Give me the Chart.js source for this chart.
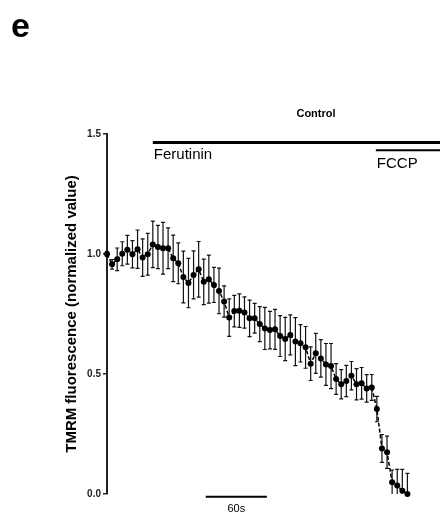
<!DOCTYPE html>
<html lang="en">
<head>
  <meta charset="utf-8" />
  <title>TMRM fluorescence - Control</title>
  <script src="https://cdn.jsdelivr.net/npm/chart.js"></script>
  <style>
    body {
      margin: 0;
      background: #fff;
      font-family: "Liberation Sans", Arial, sans-serif;
    }
    #chart-container {
      width: 446px;
      height: 520px;
      position: relative;
    }
  </style>
</head>
<body>
  <div id="chart-container">
    <canvas id="tmrmChart"></canvas>
  </div>

  <script>
    // time (s), one frame every 5 s
    const times = [];
    for (let i = 0; i < 60; i++) times.push(i * 5);

    // normalized TMRM fluorescence (mean)
    const meanValues = [
      1.000, 0.957, 0.978, 1.001, 1.018, 0.999, 1.020, 0.985, 0.999, 1.040,
      1.029, 1.024, 1.024, 0.982, 0.961, 0.904, 0.879, 0.913, 0.936, 0.884,
      0.895, 0.871, 0.846, 0.802, 0.735, 0.762, 0.764, 0.756, 0.732, 0.732,
      0.708, 0.690, 0.683, 0.686, 0.658, 0.646, 0.663, 0.635, 0.628, 0.611,
      0.543, 0.586, 0.565, 0.540, 0.533, 0.479, 0.457, 0.471, 0.493, 0.457,
      0.461, 0.440, 0.444, 0.354, 0.190, 0.174, 0.049, 0.035, 0.014, 0.000
    ];

    // error bars (SEM)
    const semValues = [
      0.010, 0.020, 0.047, 0.050, 0.060, 0.057, 0.080, 0.078, 0.087, 0.097,
      0.090, 0.108, 0.085, 0.097, 0.085, 0.108, 0.103, 0.100, 0.116, 0.095,
      0.100, 0.073, 0.095, 0.065, 0.078, 0.066, 0.070, 0.065, 0.076, 0.062,
      0.073, 0.088, 0.078, 0.083, 0.085, 0.090, 0.083, 0.100, 0.078, 0.087,
      0.070, 0.083, 0.078, 0.087, 0.094, 0.064, 0.061, 0.065, 0.059, 0.065,
      0.066, 0.057, 0.054, 0.053, 0.058, 0.067, 0.051, 0.068, 0.089, 0.086
    ];

    // y axis ticks
    const yTicks = [0, 0.5, 1.0, 1.5];

    // treatment bars: [start s, end s], level
    const ferutininSpan = [45, 327];
    const ferutininLevel = 1.465;
    const fccpSpan = [264, 327];
    const fccpLevel = 1.432;

    // time scale bar (60 s)
    const scaleBarSpan = [97, 157];
    const scaleBarLevel = -0.011;

    const xMax = 327;
    const fontFamily = '"Liberation Sans", Arial, sans-serif';

    // error bars drawn under the trace
    const errorBarPlugin = {
      id: "errorBars",
      beforeDatasetsDraw(chart) {
        const meta = chart.getDatasetMeta(0);
        const y = chart.scales.y;
        const area = chart.chartArea;
        const ctx = chart.ctx;
        ctx.save();
        ctx.strokeStyle = "#111";
        ctx.lineWidth = 1.2;
        meta.data.forEach((pt, i) => {
          const top = Math.max(area.top, y.getPixelForValue(meanValues[i] + semValues[i]));
          const bot = Math.min(area.bottom, y.getPixelForValue(meanValues[i] - semValues[i]));
          ctx.beginPath();
          ctx.moveTo(pt.x, top);
          ctx.lineTo(pt.x, bot);
          ctx.moveTo(pt.x - 2, top);
          ctx.lineTo(pt.x + 2, top);
          if (bot < area.bottom) {
            ctx.moveTo(pt.x - 2, bot);
            ctx.lineTo(pt.x + 2, bot);
          }
          ctx.stroke();
        });
        ctx.restore();
      }
    };

    // texts: panel letter, title, treatment labels, scale bar label
    const labelPlugin = {
      id: "labels",
      afterDraw(chart) {
        const x = chart.scales.x;
        const y = chart.scales.y;
        const ctx = chart.ctx;
        ctx.save();
        ctx.fillStyle = "#000";
        ctx.textBaseline = "alphabetic";

        ctx.font = "bold 34px " + fontFamily;
        ctx.textAlign = "left";
        ctx.fillText("e", 11, 37);

        ctx.font = "bold 11px " + fontFamily;
        ctx.textAlign = "center";
        ctx.fillText("Control", 316, 117);

        ctx.font = "15px " + fontFamily;
        ctx.textAlign = "left";
        ctx.fillText("Ferutinin", x.getPixelForValue(ferutininSpan[0]) + 1,
                     y.getPixelForValue(ferutininLevel) + 17);
        ctx.fillText("FCCP", x.getPixelForValue(fccpSpan[0]) + 1,
                     y.getPixelForValue(fccpLevel) + 18);

        ctx.font = "11px " + fontFamily;
        ctx.textAlign = "center";
        ctx.fillText("60s", x.getPixelForValue((scaleBarSpan[0] + scaleBarSpan[1]) / 2),
                     y.getPixelForValue(scaleBarLevel) + 15);
        ctx.restore();
      }
    };

    const hline = (span, level, width) => ({
      data: [{ x: span[0], y: level }, { x: span[1], y: level }],
      borderColor: "#000",
      borderWidth: width,
      pointRadius: 0,
      clip: false
    });

    const ctx = document.getElementById("tmrmChart").getContext("2d");
    new Chart(ctx, {
      type: "line",
      data: {
        datasets: [
          {
            label: "Control",
            data: times.map((t, i) => ({ x: t, y: meanValues[i] })),
            borderColor: "#000",
            borderWidth: 1.5,
            borderDash: [4, 2],
            pointRadius: 3,
            pointBackgroundColor: "#000",
            pointBorderColor: "#000",
            pointBorderWidth: 0,
            tension: 0,
            clip: false
          },
          hline(ferutininSpan, ferutininLevel, 3),
          hline(fccpSpan, fccpLevel, 2),
          hline(scaleBarSpan, scaleBarLevel, 2)
        ]
      },
      options: {
        responsive: true,
        maintainAspectRatio: false,
        animation: false,
        layout: {
          padding: { left: 0, right: 6, top: 134, bottom: 26 }
        },
        scales: {
          x: {
            type: "linear",
            min: 0,
            max: xMax,
            display: false
          },
          y: {
            min: 0,
            max: 1.5,
            afterFit: s => { s.width = 107; },
            afterBuildTicks: s => { s.ticks = yTicks.map(v => ({ value: v })); },
            ticks: {
              callback: v => v.toFixed(1),
              color: "#222",
              padding: 2,
              font: { family: fontFamily, size: 10, weight: "bold" }
            },
            grid: {
              display: true,
              drawOnChartArea: false,
              drawTicks: true,
              tickLength: 4,
              lineWidth: 1.5,
              color: "#222"
            },
            border: { display: true, width: 2, color: "#222" },
            title: {
              display: true,
              text: "TMRM fluorescence (normalized value)",
              color: "#000",
              padding: { top: 63, bottom: 0 },
              font: { family: fontFamily, size: 15, weight: "bold" }
            }
          }
        },
        plugins: {
          legend: { display: false },
          tooltip: { enabled: false },
          title: { display: false }
        }
      },
      plugins: [errorBarPlugin, labelPlugin]
    });
  </script>
</body>
</html>
